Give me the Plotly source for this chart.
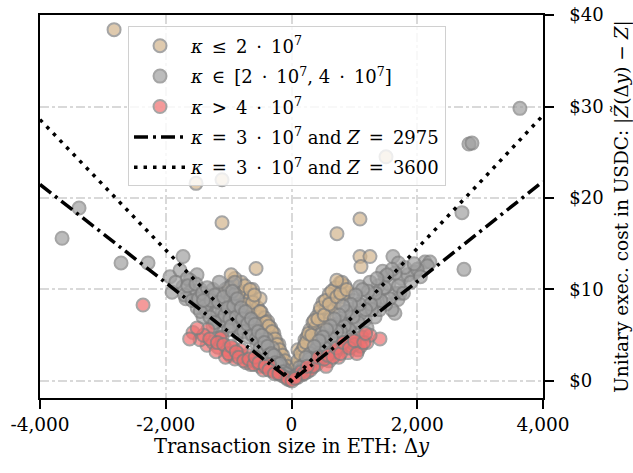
import plotly.graph_objects as go

# --- data ---
tan_x = [-2822, -1518, -1105, -1105, -564, 1503, 1089, 723, 1089, 1248, 1105,
         -950, -870, -800, -780, -720, -700, -650, -640, -600, -580, -540, -520, -480, -460,
         -430, -400, -380, -350, -330, -300, -280, -250, -220, -200, -170, -150, -120, -90, -60,
         -880, -760, -680, -1000, -560, -900, -820, -620, -500, -440,
         -1050, -980, -930, -840, -740, -660, -620, -590, -500, -410, -360, -310, -260, -230,
         -190, -140, -100, -70, -40, -1060, -960,
         771, 898, 500, 580, 294, 214, 342, 103, 650, 700, 600, 450, 400, 380, 250, 180, 150,
         120, 80, 550, 680, 820, 480, 300, 850, 750, 620, 520, 430,
         60, 100, 140, 200, 230, 270, 320, 360, 420, 460, 520, 540, 600, 640, 720, 780, 800,
         880, 720]
tan_y = [38.4, 21.6, 22.0, 17.3, 12.3, 24.5, 17.7, 16.1, 13.6, 13.6, 12.5,
         10.5, 10.0, 10.8, 9.5, 9.8, 8.8, 9.2, 8.2, 8.6, 7.6, 8.0, 7.0, 7.5, 6.6,
         6.9, 6.0, 6.5, 5.4, 5.8, 4.8, 5.2, 4.2, 3.6, 4.0, 3.0, 2.4, 2.0, 1.5, 1.0,
         8.8, 8.4, 7.6, 9.2, 6.4, 11.2, 7.4, 10.0, 9.0, 5.4,
         10.0, 9.6, 10.6, 9.6, 10.4, 10.0, 8.6, 9.4, 7.6, 6.4, 6.0, 5.4, 4.6, 4.0,
         3.4, 2.8, 2.2, 1.6, 0.8, 8.6, 11.6,
         10.7, 9.6, 8.6, 7.8, 5.6, 4.5, 6.4, 3.4, 9.0, 10.2, 9.5, 7.6, 7.0, 5.8, 4.8, 3.4, 2.6,
         2.0, 1.2, 8.0, 8.0, 9.2, 6.6, 4.4, 10.4, 8.6, 6.8, 6.2, 5.0,
         1.4, 2.2, 3.0, 3.8, 4.2, 5.2, 5.0, 6.6, 6.8, 8.0, 7.2, 8.8, 8.4, 9.8, 9.2, 9.6, 10.8,
         10.0, 11.0]

gray_x = [-3649, -3379, -2711, -2282, -1725, -1932, -1773, -1503, -1725, -1900, -1614, -1660, -1840,
          -1407, -1137, -978, -867, -1026, -819, -660, -501, -1407, -1185, -1300, -1250, -1200,
          -1100, -1000, -950, -900, -750, -700, -600, -550, -450, -400, -350, -300, -250, -200,
          -150, -100, -60, -1500, -1550, -1350, -1450, -1600, -1100, -850, -1250, -1050, -1150,
          -900, -800, -650, -1320, -1680,
          -1700, -1650, -1580, -1520, -1480, -1420, -1380, -1340, -1280, -1220, -1180, -1160,
          -1120, -1080, -1060, -1020, -980, -940, -920, -880, -860, -830, -800, -780, -760,
          -730, -700, -680, -640, -620, -580, -560, -530, -500, -470, -430, -380, -360, -320,
          -280, -260, -220, -180, -130, -80, -40, -1450, -1300, -1220, -1000, -960, -1400,
          3633, 2822, 2870, 2711, 2743, 2123, 2202, 2160, 1964, 1614, 1487, 1725, 1439, 1089,
          1217, 962, 882, 1169, 1328, 1042, 580, 421, 326, 739, 1645, 1693, 1598, 1645, 1380,
          1300, 1250, 1150, 1000, 900, 800, 700, 650, 520, 480, 380, 300, 250, 200, 150, 100, 60,
          1500, 1400, 1550, 1750, 1850, 1100, 950, 1200, 1320, 1450, 1800, 1700,
          1700, 1650, 1600, 1560, 1520, 1480, 1420, 1360, 1340, 1280, 1260, 1220, 1180, 1130,
          1080, 1060, 1020, 980, 940, 920, 870, 840, 820, 780, 760, 720, 680, 640, 620, 560,
          540, 500, 460, 440, 400, 360, 340, 280, 230, 180, 130, 80, 40, 1900, 2000, 1950,
          2050, 1780]
gray_y = [15.6, 18.9, 12.9, 12.9, 13.6, 11.4, 12.1, 11.6, 10.3, 9.7, 11.0, 11.2, 10.8,
          8.5, 9.6, 8.9, 8.1, 6.3, 6.4, 5.2, 4.5, 7.0, 6.7, 9.2, 10.0, 8.0,
          7.6, 10.2, 7.2, 9.5, 6.0, 7.0, 5.8, 4.0, 3.8, 4.6, 3.2, 3.6, 2.6, 2.2,
          1.6, 1.2, 0.6, 8.0, 9.2, 7.6, 10.0, 9.8, 5.4, 5.2, 6.0, 8.4, 10.8,
          10.8, 7.2, 6.6, 8.6, 9.0,
          9.4, 10.4, 8.8, 10.6, 9.0, 9.6, 8.2, 10.2, 8.8, 9.4, 7.4, 8.6,
          6.6, 9.2, 7.2, 8.0, 6.8, 9.8, 8.2, 7.0, 9.0, 5.8, 8.0, 6.8, 5.4,
          7.6, 6.2, 4.8, 6.8, 5.0, 6.2, 4.6, 5.4, 3.6, 5.0, 4.2, 3.8, 2.8, 3.0,
          2.8, 2.0, 1.8, 1.9, 1.0, 0.8, 0.3, 7.6, 7.0, 6.4, 5.6, 6.0, 8.8,
          29.8, 25.9, 26.0, 18.4, 12.2, 13.0, 13.0, 12.6, 11.9, 13.6, 11.4, 9.6, 9.9, 10.3,
          8.1, 7.8, 5.9, 6.7, 7.0, 5.2, 4.8, 3.7, 2.3, 5.9, 7.4, 8.9, 7.8, 9.6, 10.4,
          9.2, 10.8, 9.0, 8.8, 7.0, 6.5, 6.2, 5.0, 4.4, 5.2, 3.4, 3.0, 2.0, 1.8, 1.2, 0.8, 0.5,
          8.4, 7.8, 10.6, 11.2, 11.6, 7.4, 6.2, 5.8, 8.6, 12.0, 12.4, 12.9,
          10.4, 11.8, 12.2, 9.0, 11.6, 10.2, 8.8, 11.2, 9.6, 7.8, 8.4, 9.8, 7.8, 10.0,
          8.4, 6.4, 9.4, 7.0, 8.4, 5.6, 7.6, 6.0, 8.2, 5.4, 7.2, 5.4, 6.8, 4.6, 6.0, 5.6,
          3.6, 4.8, 3.2, 4.4, 2.8, 3.8, 2.2, 2.4, 2.6, 1.4, 1.5, 0.6, 0.3, 10.8, 12.2, 12.8,
          11.4, 9.6]

red_x = [-2361, -1566, -1344, -1328, -1105, -978, -1455, -1169, -1026, -930, -771, -612, -390,
         -231, -24, -1137, -1250, -850, -700, -650, -550, -500, -450, -300, -150, -100, -900,
         -800, -1050, -1200, -720, -350,
         -1400, -1300, -1180, -1080, -1000, -960, -880, -840, -760, -680, -600, -580, -520,
         -420, -360, -270, -200, -60, -1500, -1620,
         1407, 1121, 962, 803, 644, 485, 326, 167, 8, 898, 1058, 1200, 750, 600, 400, 250, 100,
         550, 700, 850, 950, 1100, 1250, 1000, 300, 480,
         150, 200, 350, 420, 520, 580, 660, 720, 780, 820, 920, 1000, 1040, 1150, 1180, 60, 250]
red_y = [8.3, 5.3, 3.9, 5.6, 4.8, 2.8, 4.5, 3.7, 3.4, 3.6, 2.6, 2.3, 1.5,
         0.9, 0.1, 4.7, 4.2, 3.0, 2.8, 1.8, 2.0, 1.6, 1.2, 1.1, 0.6, 0.4, 2.4,
         3.4, 2.6, 3.2, 2.0, 1.8,
         5.0, 4.6, 4.2, 4.0, 3.0, 3.8, 3.2, 2.6, 2.2, 2.4, 1.8, 2.6, 2.0,
         1.6, 1.2, 0.8, 0.8, 0.2, 5.8, 4.6,
         4.6, 4.8, 4.5, 3.7, 3.1, 2.3, 1.5, 0.7, 0.0, 3.1, 3.4, 4.2, 2.6, 2.2, 1.8, 1.0, 0.4,
         1.6, 3.2, 4.2, 3.8, 3.8, 5.0, 4.0, 1.2, 2.6,
         1.0, 0.8, 1.6, 2.6, 2.4, 2.8, 2.6, 3.6, 3.0, 4.2, 3.6, 4.4, 3.0, 4.2, 5.2, 0.3, 1.6]

line_x = [-4000, -3000, -2000, -1000, 0, 1000, 2000, 3000, 4000]
line_2975 = [21.48, 16.14, 10.78, 5.40, 0.0, 5.42, 10.86, 16.32, 21.80]
line_3600 = [28.57, 21.47, 14.34, 7.19, 0.0, 7.21, 14.46, 21.73, 29.03]

y_ticks = [0, 10, 20, 30, 40]
y_ticktext = ["$0", "$10", "$20", "$30", "$40"]
x_ticks = [-4000, -2000, 0, 2000, 4000]
x_ticktext = ["-4,000", "-2,000", "0", "2,000", "4,000"]

FONT = "DejaVu Serif"
EDGE = "#7f7f7f"
SP = "\u2002"  # wider space, as in math typesetting

fig = go.Figure()

def scatter(x, y, color, name, grp):
    fig.add_trace(go.Scatter(
        x=x, y=y, mode="markers", name=name, legendgroup=grp,
        marker=dict(size=13, color=color, opacity=0.7, line=dict(color=EDGE, width=2))))

scatter(tan_x, tan_y, "#d2b48c", f"<i>κ</i>{SP}≤{SP}2{SP}·{SP}10<sup>7</sup>", "a")
scatter(gray_x, gray_y, "#a0a0a0",
        f"<i>κ</i>{SP}∈{SP}[2{SP}·{SP}10<sup>7</sup>, 4{SP}·{SP}10<sup>7</sup>]", "b")
scatter(red_x, red_y, "#f07070", f"<i>κ</i>{SP}>{SP}4{SP}·{SP}10<sup>7</sup>", "c")

fig.add_trace(go.Scatter(x=line_x, y=line_2975, mode="lines", legendgroup="d",
                         name=f"<i>κ</i>{SP}={SP}3{SP}·{SP}10<sup>7</sup> and <i>Z</i>{SP}={SP}2975",
                         line=dict(color="black", width=3.5, dash="14px,5px,3px,5px")))
fig.add_trace(go.Scatter(x=line_x, y=line_3600, mode="lines", legendgroup="e",
                         name=f"<i>κ</i>{SP}={SP}3{SP}·{SP}10<sup>7</sup> and <i>Z</i>{SP}={SP}3600",
                         line=dict(color="black", width=3.5, dash="3.5px,6px")))

fig.update_layout(
    width=633, height=473,
    margin=dict(l=40, r=90, t=15, b=75),
    paper_bgcolor="white", plot_bgcolor="white",
    font=dict(family=FONT, size=18, color="black"),
    showlegend=True,
    legend=dict(x=0.175, y=0.97, xanchor="left", yanchor="top",
                bgcolor="rgba(255,255,255,0.8)", bordercolor="#d0d0d0", borderwidth=1,
                font=dict(family=FONT, size=18), itemwidth=52, tracegroupgap=4),
)

fig.update_xaxes(
    range=[-4000, 4000], tickvals=x_ticks, ticktext=x_ticktext, automargin=False,
    showgrid=True, gridcolor="#d9d9d9", gridwidth=1.5, griddash="dashdot",
    zeroline=False, showline=True, linecolor="black", linewidth=1.5, mirror=True,
    ticks="outside", ticklen=9, tickwidth=1.5, tickcolor="black", ticklabelstandoff=0,
    tickfont=dict(family=FONT, size=18.5),
    title=dict(text="Transaction size in ETH: Δ<i>y</i>", standoff=0,
               font=dict(family=FONT, size=19.5)),
)
fig.update_yaxes(
    range=[-1.86, 40.001], side="right", tickvals=y_ticks, ticktext=y_ticktext, automargin=False,
    showgrid=True, gridcolor="#d9d9d9", gridwidth=1.5, griddash="dashdot",
    zeroline=False, showline=True, linecolor="black", linewidth=1.5, mirror=True,
    ticks="outside", ticklen=9, tickwidth=1.5, tickcolor="black", ticklabelstandoff=12,
    tickfont=dict(family=FONT, size=18),
    title=dict(text="Unitary exec. cost in USDC: |<i>Z̃</i>(Δ<i>y</i>) − <i>Z</i>|", standoff=12,
               font=dict(family=FONT, size=18.5)),
)

fig.write_html("out.html", config={"displayModeBar": False},
               post_script="document.body.style.margin='0';document.body.style.padding='0';")
